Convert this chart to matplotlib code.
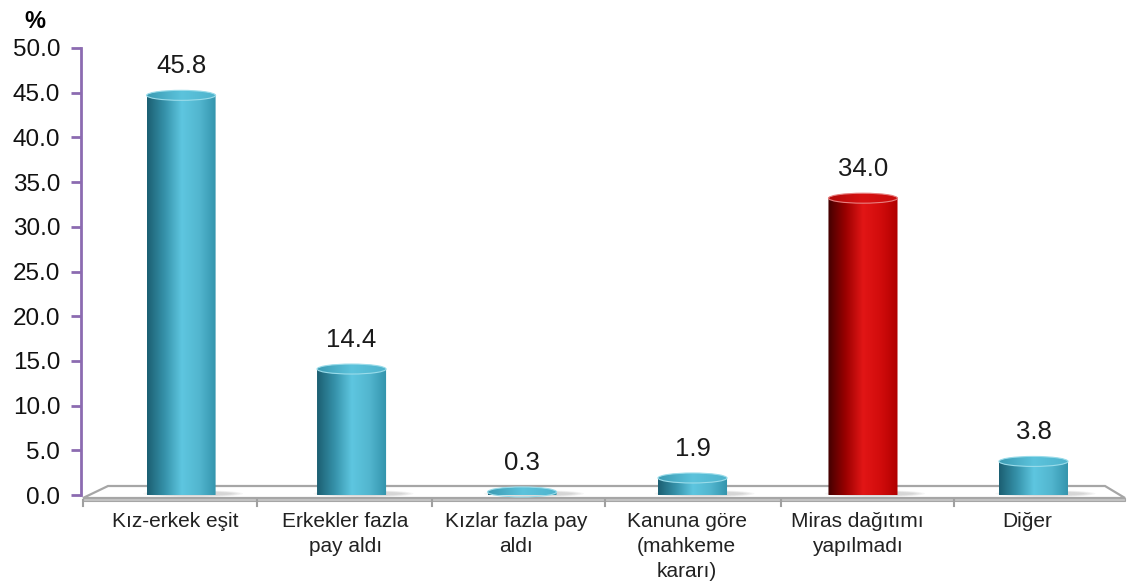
import numpy as np
import matplotlib
matplotlib.use('Agg')
import matplotlib.pyplot as plt
import matplotlib.transforms as mtransforms
from matplotlib.patches import Ellipse, PathPatch, Polygon
from matplotlib.path import Path
from matplotlib.colors import LinearSegmentedColormap

plt.rcParams['font.family'] = ['Liberation Sans', 'DejaVu Sans']

categories = ['Kız-erkek eşit', 'Erkekler fazla\npay aldı', 'Kızlar fazla pay\naldı',
              'Kanuna göre\n(mahkeme\nkararı)', 'Miras dağıtımı\nyapılmadı', 'Diğer']
values = [45.8, 14.4, 0.3, 1.9, 34.0, 3.8]
highlight = [False, False, False, False, True, False]
yticks = np.arange(0, 50.1, 5)

W, H = 1127, 583
fig = plt.figure(figsize=(W / 100, H / 100), dpi=100)
ax = fig.add_axes([81 / W, 88 / H, (1117 - 81) / W, (495 - 48) / H])
ax.set_xlim(-0.587, 5.49)
ax.set_ylim(0, 50)

teal = LinearSegmentedColormap.from_list('teal', ['#1c5f72', '#3591a9', '#5ec6e0', '#52b6cf', '#3293ab'])
red = LinearSegmentedColormap.from_list('red', ['#420000', '#9a0000', '#e21616', '#d20c0c', '#b00000'])
teal_top = LinearSegmentedColormap.from_list('tt', ['#3b9bb3', '#5cc3dc', '#4fb3cc'])
red_top = LinearSegmentedColormap.from_list('rt', ['#b00a0a', '#d81212', '#c80c0c'])

px_per_unit = (495 - 48) / 50.0
depth = 0.975          # bars stand mid-depth in the 3D floor
base = 0.05
ell_h = 10 / px_per_unit
bw = 0.405
grad = np.linspace(0, 1, 256).reshape(1, -1)


def fpt(x, y):
    return (x / W, 1 - y / H)


# floor
floor = Polygon([fpt(83, 498), fpt(108, 486), fpt(1105, 486), fpt(1125, 498)],
                closed=True, transform=fig.transFigure, facecolor='white',
                edgecolor='#a6a6a6', lw=1.6, zorder=0.5, clip_on=False)
ax.add_patch(floor)
front = Polygon([fpt(83, 498), fpt(1125, 498), fpt(1125, 501), fpt(83, 501)],
                closed=True, transform=fig.transFigure, facecolor='#c4c4c4',
                edgecolor='#a6a6a6', lw=0.8, zorder=0.5, clip_on=False)
ax.add_patch(front)
for xp in [83, 257, 432, 605, 781, 954]:
    ax.add_line(plt.Line2D([xp / W, xp / W], [1 - 500 / H, 1 - 506 / H],
                           transform=fig.transFigure, color='#a0a0a0', lw=1.5, clip_on=False))

for i, (v, hl) in enumerate(zip(values, highlight)):
    cmap = red if hl else teal
    x0, x1 = i - bw / 2, i + bw / 2
    top = base + v * depth
    # soft shadow on floor
    for k in range(5):
        ax.add_patch(Ellipse((i + 0.07, base + 0.1), bw * (1.45 - 0.08 * k), ell_h * (0.7 - 0.08 * k),
                             facecolor='#808080', alpha=0.07, edgecolor='none', zorder=1,
                             clip_on=False))
    # body path: rectangle with rounded bottom
    t = np.linspace(np.pi, 2 * np.pi, 40)
    bx = i + bw / 2 * np.cos(t)
    by = base + ell_h / 2 * np.sin(t)
    verts = [(x0, top)] + list(zip(bx, by)) + [(x1, top), (x0, top)]
    body = PathPatch(Path(verts), facecolor='none', edgecolor='none', clip_on=False)
    ax.add_patch(body)
    im = ax.imshow(grad, cmap=cmap, extent=(x0, x1, base - ell_h / 2, top), aspect='auto',
                   zorder=2, interpolation='bilinear')
    im.set_clip_path(body)
    # top cap
    cap = Ellipse((i, top), bw, ell_h, facecolor='none', edgecolor='none', clip_on=False)
    ax.add_patch(cap)
    capim = ax.imshow(grad, cmap=red_top if hl else teal_top,
                      extent=(x0, x1, top - ell_h / 2, top + ell_h / 2), aspect='auto',
                      zorder=3, interpolation='bilinear')
    capim.set_clip_path(cap)
    ax.add_patch(Ellipse((i, top), bw, ell_h, facecolor='none',
                         edgecolor='#e88080' if hl else '#9adcea', lw=0.8, zorder=3.5, clip_on=False))
    ax.text(i, top + 29 / px_per_unit, f'{v:.1f}', ha='center', va='center', fontsize=18.5,
            color='#1a1a1a')

ax.set_xticks(range(len(categories)))
ax.set_xticklabels(categories, fontsize=15, color='#222222', linespacing=1.4)
ax.tick_params(axis='x', length=0, pad=12)
shift = mtransforms.ScaledTranslation(-6 / 100, 0, fig.dpi_scale_trans)
for lab in ax.get_xticklabels():
    lab.set_transform(lab.get_transform() + shift)
ax.set_yticks(yticks)
ax.set_yticklabels([f'{t:.1f}' for t in yticks], fontsize=17.5, color='#111111')
ax.tick_params(axis='y', length=7, width=2, color='#8c6bb1', direction='out', pad=8)
for s in ['top', 'right', 'bottom']:
    ax.spines[s].set_visible(False)
ax.spines['left'].set_color('#8c6bb1')
ax.spines['left'].set_linewidth(2)
ax.patch.set_alpha(0)

fig.text(35 / W, 1 - 22 / H, '%', fontsize=17, fontweight='bold', ha='center', va='center')

fig.savefig('out.png', dpi=100)
